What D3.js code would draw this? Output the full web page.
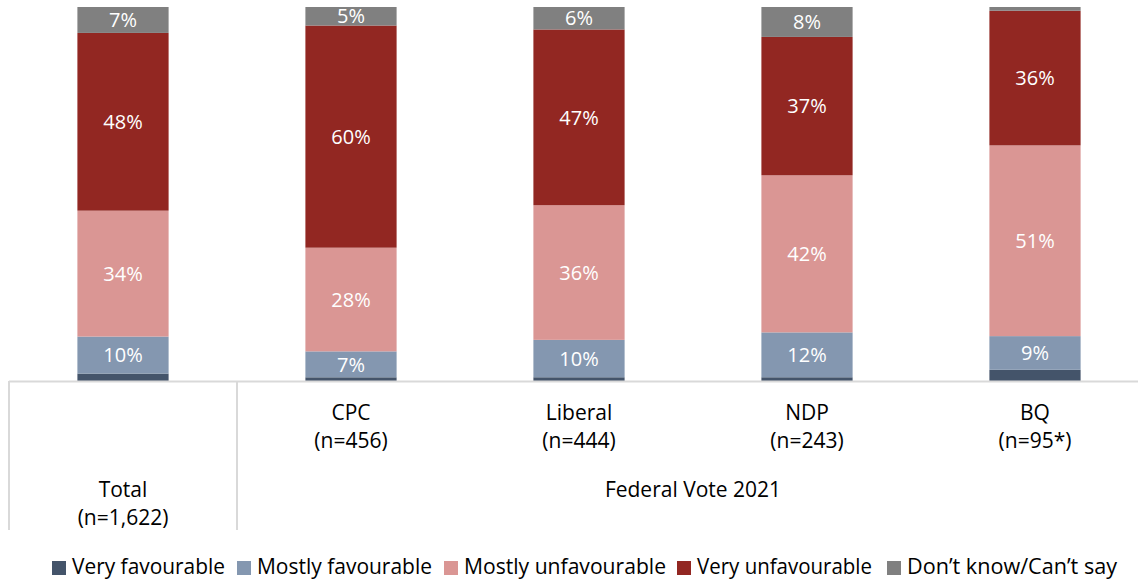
<!DOCTYPE html>
<html><head><meta charset="utf-8">
<script src="https://cdn.jsdelivr.net/npm/d3@7"></script>
<style>
body{margin:0;background:#fff;}
svg text{font-family:"Open Sans","Noto Sans",sans-serif;}
</style></head>
<body><svg id="c" width="1138" height="579"></svg>
<script>
const categories = ["Total","CPC","Liberal","NDP","BQ"];
const sublabels = ["(n=1,622)","(n=456)","(n=444)","(n=243)","(n=95*)"];
const seriesNames = ["Very favourable","Mostly favourable","Mostly unfavourable","Very unfavourable","Don’t know/Can’t say"];
const veryFav   = [2, 1, 1, 1, 3];
const mostlyFav = [10, 7, 10, 12, 9];
const mostlyUnf = [34, 28, 36, 42, 51];
const veryUnf   = [48, 60, 47, 37, 36];
const dontKnow  = [7, 5, 6, 8, 1];
const groupLabel = "Federal Vote 2021";
const colors = ["#44546A","#8497B0","#DA9694","#922722","#808080"];

(function(){
const seriesArrays = [veryFav, mostlyFav, mostlyUnf, veryUnf, dontKnow];
const rows = categories.map((c,i)=>{const r={cat:c}; seriesNames.forEach((s,k)=>r[s]=seriesArrays[k][i]); return r;});
const stack = d3.stack().keys(seriesNames).offset(d3.stackOffsetExpand);
const stacked = stack(rows);

const svg = d3.select("#c");
const L=9, R=1149, T=7, B=381;
const x = d3.scaleBand().domain(categories).range([L,R]).paddingInner(0.6).paddingOuter(0.3);
const y = d3.scaleLinear().domain([0,1]).range([B,T]);
const cx = c => x(c)+x.bandwidth()/2;

const g = svg.append("g");
stacked.forEach((s,k)=>{
  const gg = g.append("g").attr("fill",colors[k]);
  gg.selectAll("rect").data(s).join("rect")
    .attr("x",d=>x(d.data.cat)).attr("width",x.bandwidth())
    .attr("y",d=>y(d[1])).attr("height",d=>y(d[0])-y(d[1]));
});
stacked.forEach((s,k)=>{
  if(k>0){
    g.append("g").selectAll("text").data(s.filter(d=>d.data[s.key]>=5)).join("text")
      .attr("x",d=>cx(d.data.cat))
      .attr("y",d=>(y(d[0])+y(d[1]))/2)
      .attr("dy","0.36em").attr("text-anchor","middle").attr("fill","#fff")
      .attr("font-size",20)
      .text(d=>d.data[s.key]+"%");
  }
});

const step = x.step();
const axisColor="#d9d9d9";
svg.append("line").attr("x1",L).attr("x2",1138).attr("y1",B+0.5).attr("y2",B+0.5).attr("stroke",axisColor).attr("stroke-width",2);
[L, L+step].forEach(xx=>{
  svg.append("line").attr("x1",xx).attr("x2",xx).attr("y1",B).attr("y2",530).attr("stroke",axisColor).attr("stroke-width",2);
});
const lab = svg.append("g").attr("font-size",21).attr("fill","#000").attr("text-anchor","middle");
categories.forEach((c,i)=>{
  const y0 = i===0 ? 489 : 412;
  lab.append("text").attr("x",cx(c)).attr("y",y0).attr("dy","0.36em").text(c);
  lab.append("text").attr("x",cx(c)).attr("y",y0+28).attr("dy","0.36em").text(sublabels[i]);
});
lab.append("text").attr("x",(cx(categories[1])+cx(categories[categories.length-1]))/2).attr("y",489).attr("dy","0.36em").text(groupLabel);

const legX=[52,237,444,677,887];
const legW=[153,175,202,175,210];
const leg = svg.append("g");
seriesNames.forEach((s,k)=>{
  leg.append("rect").attr("x",legX[k]).attr("y",561).attr("width",14).attr("height",14).attr("fill",colors[k]);
  leg.append("text").attr("x",legX[k]+20).attr("y",566).attr("dy","0.36em").attr("font-size",21).attr("fill","#000")
    .attr("textLength",legW[k]).attr("lengthAdjust","spacingAndGlyphs").text(s);
});
})();
</script></body></html>
